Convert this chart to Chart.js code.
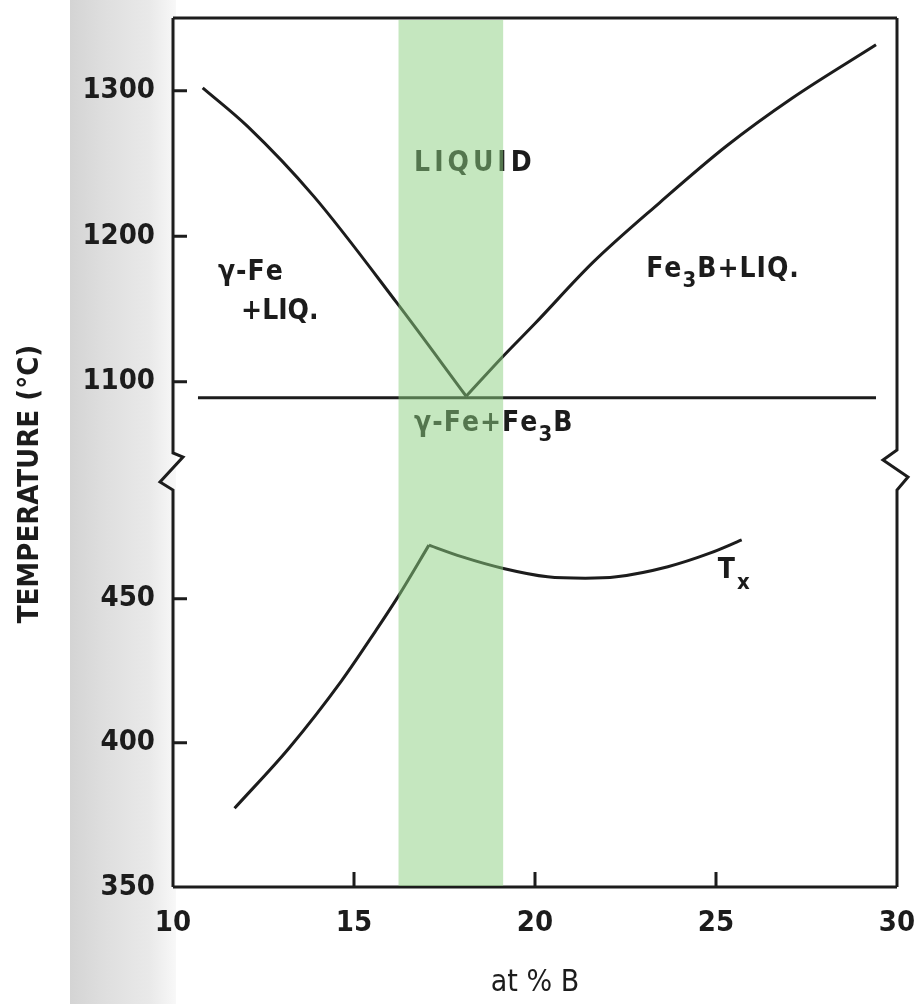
<!DOCTYPE html>
<html>
<head>
<meta charset="utf-8">
<title>Fe-B phase diagram and Tx</title>
<script src="https://cdn.jsdelivr.net/npm/chart.js@4.4.0/dist/chart.umd.min.js"></script>
<style>
html, body { margin: 0; padding: 0; background: #fff; }
#wrap { width: 921px; height: 1004px; position: relative; }
</style>
</head>
<body>
<div id="wrap"><canvas id="myChart"></canvas></div>
<script>
// composition in at % B, temperature in deg C
// the temperature axis is broken between about 495 and 1040
let xTicks = [10, 15, 20, 25, 30];
let lowTicks = [350, 400, 450];
let highTicks = [1100, 1200, 1300];

// liquidus on the gamma-Fe side
let liqLeftX = [10.82, 12.06, 13.89, 16.19, 18.1];
let liqLeftT = [1302, 1275.5, 1227.4, 1154, 1090];
// liquidus on the Fe3B side
let liqRightX = [18.1, 19.12, 20.0, 21.6, 23.44, 25.29, 27.11, 29.42];
let liqRightT = [1090, 1117.5, 1140, 1182, 1223, 1262, 1295, 1331.6];
// eutectic line
let eutX = [10.69, 29.42];
let eutT = [1089, 1089];
// crystallisation temperature Tx
let txUpX = [11.70, 13.22, 14.66, 15.59, 16.23, 17.07];
let txUpT = [377.3, 398.4, 421.6, 438.7, 451.0, 468.6];
let txDownX = [17.07, 17.97, 19.13, 20.35, 21.39, 22.25, 23.67, 24.81, 25.71];
let txDownT = [468.6, 464.6, 460.5, 457.6, 457.1, 457.6, 461.1, 465.7, 470.4];
// shaded composition range
let bandX = [16.23, 19.12];

// region labels (x in at % B, t in deg C on the given axis)
let notes = [
    {text: 'LIQUID', x: 16.66, t: 1250, axis: 'yHigh', spacing: 4},
    {text: 'γ-Fe', x: 11.24, t: 1175, axis: 'yHigh', spacing: 1},
    {text: '+LIQ.', x: 11.88, t: 1148, axis: 'yHigh', spacing: 0},
    {text: 'Fe₃B+LIQ.', x: 23.07, t: 1177, axis: 'yHigh', spacing: 1},
    {text: 'γ-Fe+Fe₃B', x: 16.66, t: 1071, axis: 'yHigh', spacing: 1},
    {text: 'Tₓ', x: 25.05, t: 459.6, axis: 'yLow', spacing: 2}
];

let ink = '#1c1c1c';
let fam = '"DejaVu Sans Condensed", "DejaVu Sans", sans-serif';
let subs = {'₃': '3', 'ₓ': 'x'};

function pts(xs, ts) {
    return xs.map(function (x, i) { return {x: x, y: ts[i]}; });
}

function curve(xs, ts, axis, smooth) {
    return {
        data: pts(xs, ts),
        yAxisID: axis,
        borderColor: ink,
        borderWidth: 3,
        pointRadius: 0,
        fill: false,
        showLine: true,
        cubicInterpolationMode: smooth ? 'monotone' : 'default',
        tension: smooth ? 0.4 : 0
    };
}

function drawRich(ctx, text, x, y, size, spacing) {
    let cx = x;
    for (let ch of text) {
        let sub = subs[ch];
        if (sub) {
            ctx.font = 'bold ' + Math.round(size * 0.78) + 'px ' + fam;
            ctx.fillText(sub, cx, y + size * 0.42);
            cx += ctx.measureText(sub).width + spacing;
        } else {
            ctx.font = 'bold ' + size + 'px ' + fam;
            ctx.fillText(ch, cx, y);
            cx += ctx.measureText(ch).width + spacing;
        }
    }
}

function noPad(s) {
    s.paddingLeft = 0;
    s.paddingRight = 0;
    s.paddingTop = 0;
    s.paddingBottom = 0;
}

let paper = {
    id: 'paper',
    beforeDraw(chart) {
        let c = chart.ctx;
        c.save();
        c.fillStyle = '#fff';
        c.fillRect(0, 0, chart.width, chart.height);
        let g = c.createLinearGradient(70, 0, 176, 0);
        g.addColorStop(0, '#d4d4d4');
        g.addColorStop(0.35, '#dfdfdf');
        g.addColorStop(0.75, '#e9e9e9');
        g.addColorStop(1, '#f8f8f8');
        c.fillStyle = g;
        c.fillRect(70, 0, 106, chart.height);
        c.restore();
    },
    afterDatasetsDraw(chart) {
        let c = chart.ctx;
        let a = chart.chartArea;
        let sx = chart.scales.x, hi = chart.scales.yHigh, lo = chart.scales.yLow;
        let brk = lo.top;
        c.save();
        c.strokeStyle = ink;
        c.lineWidth = 3;
        c.lineJoin = 'miter';
        c.beginPath();
        // top and bottom
        c.moveTo(a.left, a.top); c.lineTo(a.right, a.top);
        c.moveTo(a.left, a.bottom); c.lineTo(a.right, a.bottom);
        // left axis with break
        c.moveTo(a.left, a.top);
        c.lineTo(a.left, brk - 16);
        c.lineTo(a.left + 10, brk - 12);
        c.lineTo(a.left - 13, brk + 13);
        c.lineTo(a.left, brk + 21);
        c.lineTo(a.left, a.bottom);
        // right axis with break
        c.moveTo(a.right, a.top);
        c.lineTo(a.right, brk - 19);
        c.lineTo(a.right - 14, brk - 9);
        c.lineTo(a.right + 11, brk + 8);
        c.lineTo(a.right, brk + 21);
        c.lineTo(a.right, a.bottom);
        // inward ticks
        highTicks.forEach(function (v) {
            let y = hi.getPixelForValue(v);
            c.moveTo(a.left, y); c.lineTo(a.left + 14, y);
        });
        lowTicks.slice(1).forEach(function (v) {
            let y = lo.getPixelForValue(v);
            c.moveTo(a.left, y); c.lineTo(a.left + 14, y);
        });
        xTicks.slice(1, -1).forEach(function (v) {
            let x = sx.getPixelForValue(v);
            c.moveTo(x, a.bottom); c.lineTo(x, a.bottom - 15);
        });
        c.stroke();

        // region labels
        c.fillStyle = ink;
        c.textBaseline = 'middle';
        c.textAlign = 'left';
        notes.forEach(function (n) {
            let ys = chart.scales[n.axis];
            drawRich(c, n.text, sx.getPixelForValue(n.x), ys.getPixelForValue(n.t), 28, n.spacing);
        });

        // vertical axis title
        c.save();
        c.translate(30, 484);
        c.rotate(-Math.PI / 2);
        c.textAlign = 'center';
        c.font = 'bold 29px ' + fam;
        c.fillText('TEMPERATURE (°C)', 0, 0);
        c.restore();

        // green composition band laid over everything
        let x0 = sx.getPixelForValue(bandX[0]);
        let x1 = sx.getPixelForValue(bandX[1]);
        c.fillStyle = 'rgba(140, 207, 128, 0.5)';
        c.fillRect(x0, a.top + 2, x1 - x0, a.bottom - a.top - 3);
        c.restore();
    }
};

function tickFont() {
    return {family: fam, size: 29, weight: 'bold', lineHeight: 1};
}

function plain(v) {
    return String(v);
}

let ctx1 = document.getElementById('myChart').getContext('2d');
let chart1 = new Chart(ctx1, {
    type: 'scatter',
    data: {
        datasets: [
            curve(liqLeftX, liqLeftT, 'yHigh', true),
            curve(liqRightX, liqRightT, 'yHigh', true),
            curve(eutX, eutT, 'yHigh', false),
            curve(txUpX, txUpT, 'yLow', true),
            curve(txDownX, txDownT, 'yLow', true)
        ]
    },
    options: {
        responsive: true,
        maintainAspectRatio: false,
        animation: false,
        layout: {padding: {top: 18, right: 24, bottom: 0, left: 0}},
        plugins: {legend: {display: false}, tooltip: {enabled: false}},
        scales: {
            x: {
                type: 'linear',
                min: 10,
                max: 30,
                afterBuildTicks: function (s) { s.ticks = xTicks.map(function (v) { return {value: v}; }); },
                afterFit: function (s) { s.height = 117; noPad(s); },
                grid: {display: false, drawTicks: false},
                border: {display: false},
                ticks: {color: ink, font: tickFont(), padding: 22, maxRotation: 0, autoSkip: false, callback: plain},
                title: {display: true, text: 'at % B', color: ink, font: {family: fam, size: 30, lineHeight: 1.2}, padding: {top: 0, bottom: 3}}
            },
            yLow: {
                type: 'linear',
                position: 'left',
                stack: 'temp',
                stackWeight: 418,
                min: 350,
                max: 495,
                afterBuildTicks: function (s) { s.ticks = lowTicks.map(function (v) { return {value: v}; }); },
                afterFit: function (s) { s.width = 173; noPad(s); },
                grid: {display: false, drawTicks: false},
                border: {display: false},
                ticks: {color: ink, font: tickFont(), padding: 18, autoSkip: false, callback: plain}
            },
            yHigh: {
                type: 'linear',
                position: 'left',
                stack: 'temp',
                stackWeight: 451,
                min: 1040,
                max: 1350,
                afterBuildTicks: function (s) { s.ticks = highTicks.map(function (v) { return {value: v}; }); },
                afterFit: function (s) { s.width = 173; noPad(s); },
                grid: {display: false, drawTicks: false},
                border: {display: false},
                ticks: {color: ink, font: tickFont(), padding: 18, autoSkip: false, callback: plain}
            }
        }
    },
    plugins: [paper]
});
</script>
</body>
</html>
